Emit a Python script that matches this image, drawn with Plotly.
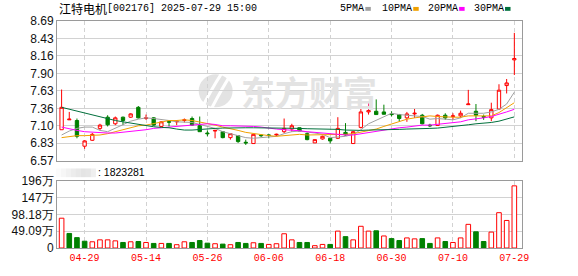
import plotly.graph_objects as go

# ---------------- data ----------------
dates = [
    "2025-04-24", "2025-04-25", "2025-04-28", "2025-04-29", "2025-04-30", "2025-05-06",
    "2025-05-07", "2025-05-08", "2025-05-09", "2025-05-12", "2025-05-13", "2025-05-14",
    "2025-05-15", "2025-05-16", "2025-05-19", "2025-05-20", "2025-05-21", "2025-05-22",
    "2025-05-23", "2025-05-26", "2025-05-27", "2025-05-28", "2025-05-29", "2025-05-30",
    "2025-06-03", "2025-06-04", "2025-06-05", "2025-06-06", "2025-06-09", "2025-06-10",
    "2025-06-11", "2025-06-12", "2025-06-13", "2025-06-16", "2025-06-17", "2025-06-18",
    "2025-06-19", "2025-06-20", "2025-06-23", "2025-06-24", "2025-06-25", "2025-06-26",
    "2025-06-27", "2025-06-30", "2025-07-01", "2025-07-02", "2025-07-03", "2025-07-04",
    "2025-07-07", "2025-07-08", "2025-07-09", "2025-07-10", "2025-07-18", "2025-07-21",
    "2025-07-22", "2025-07-23", "2025-07-24", "2025-07-25", "2025-07-28", "2025-07-29",
]

open_ = [7.04, 7.19, 7.18, 6.79, 6.88, 7.06, 7.23, 7.13, 7.23, 7.23, 7.38, 7.21, 7.22, 7.09,
         7.165, 7.16, 7.18, 7.21, 7.10, 6.99, 7.02, 7.01, 6.92, 6.95, 6.85, 6.83, 6.96, 6.96,
         6.96, 7.01, 7.05, 7.07, 6.98, 6.84, 6.90, 6.91, 6.91, 7.00, 6.83, 7.075, 7.31, 7.32,
         7.31, 7.28, 7.27, 7.22, 7.28, 7.26, 7.11, 7.105, 7.26, 7.24, 7.25, 7.42, 7.32, 7.24,
         7.22, 7.355, 7.71, 8.10]
close = [7.38, 7.20, 6.94, 6.87, 6.97, 7.11, 7.115, 7.22, 7.18, 7.28, 7.22, 7.22, 7.11, 7.16,
         7.155, 7.17, 7.19, 7.11, 7.01, 6.98, 7.03, 6.92, 6.98, 6.86, 6.84, 6.97, 6.95, 6.955,
         6.97, 7.06, 7.10, 7.02, 6.89, 6.89, 6.94, 6.87, 7.06, 6.96, 7.01, 7.31, 7.33, 7.27,
         7.275, 7.27, 7.21, 7.28, 7.29, 7.13, 7.10, 7.26, 7.22, 7.25, 7.29, 7.43, 7.26, 7.23,
         7.345, 7.64, 7.75, 8.12]
high = [7.65, 7.31, 7.21, 6.88, 6.99, 7.13, 7.26, 7.24, 7.24, 7.29, 7.40, 7.27, 7.23, 7.17,
        7.18, 7.18, 7.21, 7.24, 7.24, 7.03, 7.03, 7.02, 6.99, 6.96, 6.89, 6.97, 6.97, 6.97,
        6.98, 7.21, 7.13, 7.07, 7.00, 6.89, 6.95, 6.91, 7.23, 7.14, 7.02, 7.365, 7.45, 7.50,
        7.42, 7.32, 7.28, 7.31, 7.355, 7.28, 7.13, 7.27, 7.29, 7.29, 7.33, 7.645, 7.43, 7.27,
        7.45, 7.73, 7.81, 8.51]
low = [7.04, 7.19, 6.91, 6.75, 6.87, 7.03, 7.09, 7.11, 7.11, 7.22, 7.21, 7.19, 7.10, 7.08,
       7.09, 7.11, 7.15, 7.10, 7.01, 6.94, 6.91, 6.91, 6.89, 6.84, 6.81, 6.83, 6.93, 6.91,
       6.94, 6.99, 7.01, 7.02, 6.88, 6.84, 6.89, 6.83, 6.90, 6.95, 6.83, 7.06, 7.27, 7.27,
       7.27, 7.24, 7.17, 7.16, 7.22, 7.12, 7.08, 7.10, 7.19, 7.19, 7.22, 7.42, 7.17, 7.19,
       7.17, 7.345, 7.59, 7.87]

volume = [874000, 427000, 304000, 199000, 182000, 239000, 239000, 210000, 162000, 182000,
          191000, 162000, 134000, 134000, 134000, 97000, 182000, 162000, 219000, 142000,
          125000, 114000, 97000, 162000, 134000, 154000, 134000, 105000, 125000, 418000,
          239000, 162000, 162000, 68000, 105000, 105000, 495000, 333000, 239000, 637000,
          495000, 505000, 353000, 276000, 219000, 296000, 268000, 276000, 134000, 296000,
          191000, 162000, 296000, 694000, 475000, 191000, 467000, 1036000, 808000, 1823281]

ma5 = [6.96, 7.02, 7.06, 7.08, 7.08, 7.03, 7.01, 7.06, 7.11, 7.17, 7.20, 7.22, 7.21, 7.20,
       7.18, 7.16, 7.16, 7.15, 7.12, 7.09, 7.06, 7.01, 6.98, 6.95, 6.92, 6.91, 6.92, 6.92,
       6.94, 6.98, 7.01, 7.02, 7.01, 6.99, 6.97, 6.92, 6.93, 6.94, 6.97, 7.04, 7.13, 7.18,
       7.24, 7.29, 7.27, 7.26, 7.26, 7.24, 7.20, 7.21, 7.20, 7.19, 7.22, 7.29, 7.29, 7.29,
       7.31, 7.35, 7.43, 7.61]
ma10 = [6.92, 6.94, 6.95, 6.95, 6.95, 6.96, 6.98, 7.01, 7.05, 7.08, 7.10, 7.11, 7.13, 7.16,
        7.18, 7.18, 7.19, 7.18, 7.16, 7.13, 7.11, 7.08, 7.06, 7.03, 7.00, 6.98, 6.96, 6.95,
        6.94, 6.95, 6.96, 6.97, 6.96, 6.96, 6.97, 6.97, 6.97, 6.97, 6.98, 7.00, 7.03, 7.05,
        7.09, 7.13, 7.16, 7.20, 7.22, 7.24, 7.25, 7.24, 7.23, 7.23, 7.23, 7.25, 7.25, 7.25,
        7.25, 7.30, 7.37, 7.45]
ma20 = [7.08, 7.05, 7.03, 7.01, 7.00, 6.99, 6.99, 6.99, 7.00, 7.01, 7.03, 7.04, 7.06, 7.07,
        7.08, 7.10, 7.11, 7.12, 7.13, 7.13, 7.12, 7.10, 7.10, 7.10, 7.09, 7.09, 7.08, 7.06,
        7.05, 7.04, 7.035, 7.025, 7.01, 7.00, 6.99, 6.975, 6.97, 6.96, 6.96, 6.98, 6.995, 7.01,
        7.03, 7.05, 7.07, 7.08, 7.10, 7.11, 7.11, 7.12, 7.13, 7.14, 7.16, 7.19, 7.20, 7.22,
        7.24, 7.27, 7.31, 7.35]
ma30 = [7.38, 7.35, 7.32, 7.29, 7.26, 7.235, 7.21, 7.18, 7.16, 7.14, 7.12, 7.10, 7.085, 7.075,
        7.07, 7.05, 7.035, 7.035, 7.045, 7.06, 7.06, 7.065, 7.07, 7.07, 7.07, 7.07, 7.07, 7.07,
        7.065, 7.07, 7.065, 7.06, 7.055, 7.055, 7.055, 7.045, 7.045, 7.035, 7.03, 7.03, 7.035,
        7.035, 7.04, 7.045, 7.045, 7.05, 7.05, 7.055, 7.06, 7.065, 7.075, 7.085, 7.095, 7.115,
        7.13, 7.135, 7.15, 7.17, 7.20, 7.235]

tick_dates = ["2025-04-29", "2025-05-14", "2025-05-26", "2025-06-06",
              "2025-06-18", "2025-06-30", "2025-07-10", "2025-07-29"]
price_ticks = [6.57, 6.835, 7.10, 7.365, 7.63, 7.895, 8.16, 8.425, 8.69]
price_labels = ["6.57", "6.83", "7.10", "7.36", "7.63", "7.90", "8.16", "8.43", "8.69"]
vol_ticks = [0, 490900, 981800, 1472700, 1963600]
vol_labels = ["0", "49.09万", "98.18万", "147万", "196万"]

stock_name = "江特电机"
stock_code = "[002176] 2025-07-29 15:00"
ma_names = ["5PMA", "10PMA", "20PMA", "30PMA"]
last_volume_text = ": 1823281"
watermark = "东方财富"

# ---------------- styles ----------------
RED = "#ff0000"
GREEN = "#008000"
MA_COLORS = ["#a0a0a0", "#f0a000", "#ff00ff", "#00703c"]
GRID = "#d2d2d2"
BORDER = "#9a9a9a"

W_FIG, H_FIG = 578, 276
L, R, T, B = 56, 56, 21, 21
PW, PH = W_FIG - L - R, H_FIG - T - B


def px(x):
    return (x - L) / PW


def py(y):
    return (T + PH - y) / PH


fig = go.Figure()

fig.add_trace(go.Candlestick(
    x=dates, open=open_, high=high, low=low, close=close,
    increasing=dict(line=dict(color=RED, width=1), fillcolor="#ffffff"),
    decreasing=dict(line=dict(color=GREEN, width=1), fillcolor=GREEN),
    whiskerwidth=0, xaxis="x", yaxis="y", showlegend=False, hoverinfo="skip",
))

for name, vals, col in zip(ma_names, [ma5, ma10, ma20, ma30], MA_COLORS):
    fig.add_trace(go.Scatter(x=dates, y=vals, mode="lines", name=name,
                             line=dict(color=col, width=1), xaxis="x", yaxis="y",
                             showlegend=False, hoverinfo="skip"))

up = [(close[i] >= (open_[i] if i == 0 else close[i - 1])) for i in range(len(close))]
fig.add_trace(go.Bar(
    x=dates, y=volume, width=0.6,
    marker=dict(color=["#ffffff" if u else GREEN for u in up],
                line=dict(color=[RED if u else GREEN for u in up], width=1)),
    xaxis="x2", yaxis="y2", showlegend=False, hoverinfo="skip",
))

axis_common = dict(type="category", range=[-0.6, 60], showline=True, mirror=True,
                   linecolor=BORDER, linewidth=1, showgrid=True, gridcolor=GRID,
                   griddash="4px,3px", gridwidth=1, tickmode="array", tickvals=tick_dates,
                   zeroline=False, ticks="", fixedrange=True)

shapes = []
annotations = []

# title
annotations.append(dict(xref="paper", yref="paper", x=px(56), y=py(8), xanchor="left",
                        yanchor="middle", text=stock_name, showarrow=False,
                        font=dict(family="Noto Sans CJK SC", size=12, color="#000")))
annotations.append(dict(xref="paper", yref="paper", x=px(104), y=py(8), xanchor="left",
                        yanchor="middle", text=stock_code, showarrow=False,
                        font=dict(family="Liberation Mono", size=10, color="#000")))
# legend
leg_x = [338, 380, 426, 472]
for name, col, lx in zip(ma_names, MA_COLORS, leg_x):
    annotations.append(dict(xref="paper", yref="paper", x=px(lx), y=py(8), xanchor="left",
                            yanchor="middle", text=name, showarrow=False,
                            font=dict(family="Liberation Mono", size=10, color="#000")))
    mx = lx + 6 * len(name) + 3
    shapes.append(dict(type="rect", xref="paper", yref="paper", x0=px(mx), x1=px(mx + 5.5),
                       y0=py(10.5), y1=py(6.5), fillcolor=col, line=dict(width=0)))

# volume header
grad = ["#fbfbfb", "#f6f6f6", "#f1f1f1", "#ececec", "#e8e8e8", "#e4e4e4", "#e6e6e6", "#efefef"]
for k, gc in enumerate(grad):
    shapes.append(dict(type="rect", xref="paper", yref="paper", x0=px(55 + 5 * k),
                       x1=px(60 + 5 * k), y0=py(182), y1=py(173), fillcolor=gc,
                       line=dict(width=0), layer="below"))
annotations.append(dict(xref="paper", yref="paper", x=px(95), y=py(177), xanchor="left",
                        yanchor="middle", text=last_volume_text, showarrow=False,
                        font=dict(family="Liberation Sans", size=10.5, color="#000")))

# watermark
annotations.append(dict(xref="paper", yref="paper", x=px(309), y=py(94), xanchor="center",
                        yanchor="middle", text="<b>" + watermark + "</b>", showarrow=False,
                        font=dict(family="Noto Sans CJK SC", size=34, color="#e3e3e3")))
cx, cy, rr = 215, 93, 17
shapes.append(dict(type="circle", xref="paper", yref="paper", x0=px(cx - rr), x1=px(cx + rr),
                   y0=py(cy + rr), y1=py(cy - rr), fillcolor="#e3e3e3", line=dict(width=0),
                   layer="below"))
for off in (-6, 4):
    p = "M {:.4f},{:.4f} Q {:.4f},{:.4f} {:.4f},{:.4f}".format(
        px(cx + off + 12), py(cy - 18), px(cx + off + 2), py(cy - 2), px(cx + off - 8), py(cy + 18))
    shapes.append(dict(type="path", xref="paper", yref="paper", path=p,
                       line=dict(color="#ffffff", width=3), layer="below"))

fig.update_layout(
    width=W_FIG, height=H_FIG,
    margin=dict(l=L, r=R, t=T, b=B, pad=0),
    paper_bgcolor="#ffffff", plot_bgcolor="#ffffff",
    showlegend=False, boxgap=0.38,
    xaxis=dict(axis_common, domain=[0, 1], anchor="y", showticklabels=False,
               rangeslider=dict(visible=False)),
    xaxis2=dict(axis_common, domain=[0, 1], anchor="y2", showticklabels=True,
                ticktext=[d[5:] for d in tick_dates],
                tickfont=dict(family="Liberation Mono", size=10, color="#ff0000")),
    yaxis=dict(domain=[py(165), 1], range=[6.57, 8.69], tickmode="array",
               tickvals=price_ticks, ticktext=price_labels, showline=True, mirror=True,
               linecolor=BORDER, linewidth=1, gridcolor=GRID, zeroline=False, ticks="",
               tickfont=dict(family="Liberation Sans", size=12, color="#111"),
               fixedrange=True),
    yaxis2=dict(domain=[0, py(186)], range=[0, 1963600], tickmode="array",
                tickvals=vol_ticks, ticktext=vol_labels, showline=True, mirror=True,
                linecolor=BORDER, linewidth=1, gridcolor=GRID, zeroline=False, ticks="",
                tickfont=dict(family="Liberation Sans", size=12, color="#111"),
                fixedrange=True),
    shapes=shapes, annotations=annotations,
)

fig.write_html("out.html")
